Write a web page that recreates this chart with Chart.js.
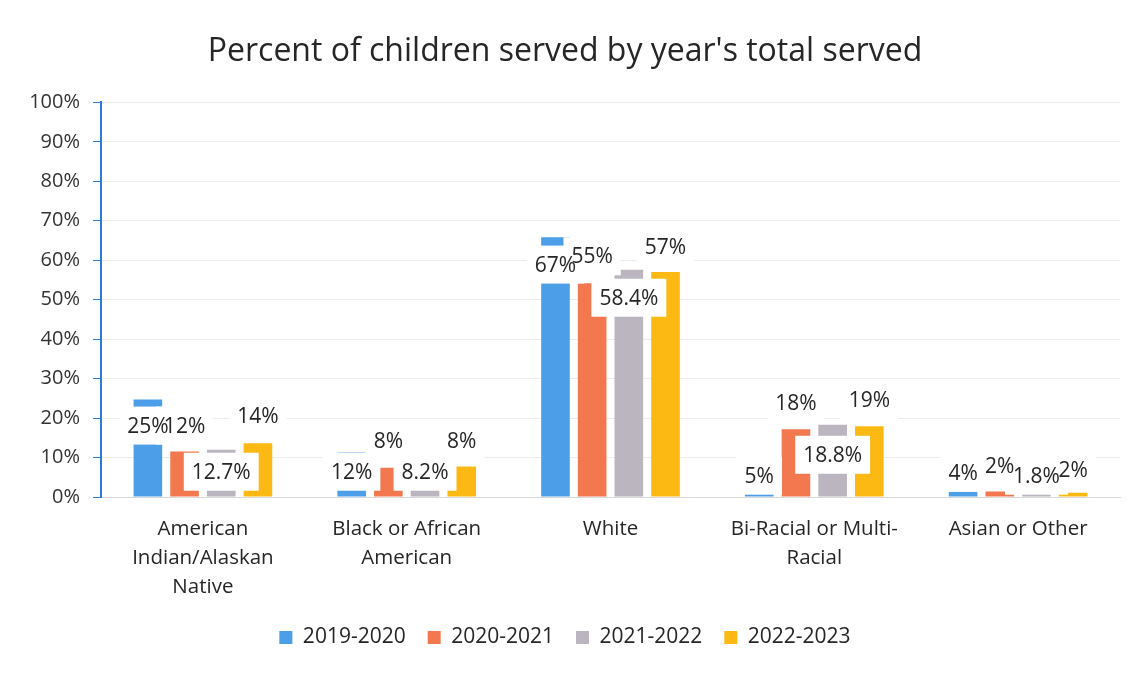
<!DOCTYPE html>
<html>
<head>
<meta charset="utf-8">
<script src="https://cdn.jsdelivr.net/npm/chart.js@4/dist/chart.umd.min.js"></script>
<style>
  body { margin: 0; background: #fff; }
  #wrap { width: 1140px; height: 673px; position: relative; }
</style>
</head>
<body>
<div id="wrap"><canvas id="chart"></canvas></div>
<script>
const categories = [
  ["American", "Indian/Alaskan", "Native"],
  ["Black or African", "American"],
  "White",
  ["Bi-Racial or Multi-", "Racial"],
  "Asian or Other",
];
const seriesNames = ["2019-2020", "2020-2021", "2021-2022", "2022-2023"];

// bar heights (percent)
const y2019 = [24.7, 11.3, 65.8, 1.6, 1.5];
const y2020 = [11.5, 7.4, 54.2, 17.2, 1.4];
const y2021 = [12.0, 8.2, 57.6, 18.3, 1.1];
const y2022 = [13.6, 7.7, 57.0, 17.9, 1.1];

// data label texts as printed on the chart
const lbl2019 = ["25%", "12%", "67%", "5%", "4%"];
const lbl2020 = ["12%", "8%", "55%", "18%", "2%"];
const lbl2021 = ["12.7%", "8.2%", "58.4%", "18.8%", "1.8%"];
const lbl2022 = ["14%", "8%", "57%", "19%", "2%"];

// where each label box sits, in axis units (percent)
const at2019 = [18.1, 6.4, 58.9, 5.4, 6.1];
const at2020 = [18.1, 14.3, 61.0, 23.7, 7.9];
const at2021 = [6.4, 6.4, 50.5, 10.7, 5.4];
const at2022 = [20.4, 14.3, 63.3, 24.5, 6.9];

const colors = ["#4d9ee9", "#f3784f", "#bbb5bf", "#fdb913"];
const values = [y2019, y2020, y2021, y2022];
const labelTexts = [lbl2019, lbl2020, lbl2021, lbl2022];
const labelAt = [at2019, at2020, at2021, at2022];

const FONT = "'Open Sans', 'Noto Sans', sans-serif";

// labels with white boxes over the bars, like the scanned Excel chart
const boxLabels = {
  id: "boxLabels",
  afterDatasetsDraw(chart) {
    const ctx = chart.ctx;
    const yScale = chart.scales.y;
    ctx.save();
    ctx.font = "21px " + FONT;
    ctx.textAlign = "center";
    ctx.textBaseline = "middle";
    const items = [];
    chart.data.datasets.forEach((ds, i) => {
      const meta = chart.getDatasetMeta(i);
      meta.data.forEach((bar, j) => {
        const y = yScale.getPixelForValue(labelAt[i][j]);
        items.push({ x: bar.x, y: y, text: labelTexts[i][j] });
      });
    });
    ctx.fillStyle = "#ffffff";
    items.forEach((it) => {
      const w = ctx.measureText(it.text).width + 16;
      ctx.fillRect(it.x - w / 2, it.y - 19, w, 38);
    });
    ctx.fillStyle = "#262626";
    items.forEach((it) => {
      ctx.fillText(it.text, it.x, it.y + 1);
    });
    ctx.restore();
  },
};

new Chart(document.getElementById("chart"), {
  type: "bar",
  data: {
    labels: categories,
    datasets: seriesNames.map((name, i) => ({
      label: name,
      data: values[i],
      backgroundColor: colors[i],
      categoryPercentage: 0.72,
      barPercentage: 0.78,
    })),
  },
  options: {
    responsive: true,
    maintainAspectRatio: false,
    animation: false,
    layout: { padding: { left: 10, right: 20, top: 12, bottom: 15 } },
    plugins: {
      title: {
        display: true,
        text: "Percent of children served by year's total served",
        color: "#262626",
        font: { family: FONT, size: 32, weight: "normal" },
        padding: { top: 21, bottom: 31 },
      },
      legend: {
        position: "bottom",
        labels: {
          color: "#262626",
          font: { family: FONT, size: 21 },
          boxWidth: 13,
          boxHeight: 13,
          padding: 22,
        },
      },
      tooltip: { enabled: false },
    },
    scales: {
      x: {
        grid: { display: false },
        border: { color: "#d9d9d9" },
        ticks: {
          color: "#262626",
          font: { family: FONT, size: 20.5, lineHeight: 1.4 },
          maxRotation: 0,
          autoSkip: false,
          padding: 10,
        },
        afterFit: (s) => { s.height = 108; },
      },
      y: {
        min: 0,
        max: 100,
        grid: {
          color: "#ececec",
          tickColor: "#2b7bd8",
          tickLength: 8,
        },
        border: { color: "#2b7bd8", width: 2 },
        ticks: {
          stepSize: 10,
          color: "#333333",
          font: { family: FONT, size: 20 },
          padding: 13,
          callback: (v) => v + "%",
        },
        afterFit: (s) => { s.width = 91; },
      },
    },
  },
  plugins: [boxLabels],
});
</script>
</body>
</html>
